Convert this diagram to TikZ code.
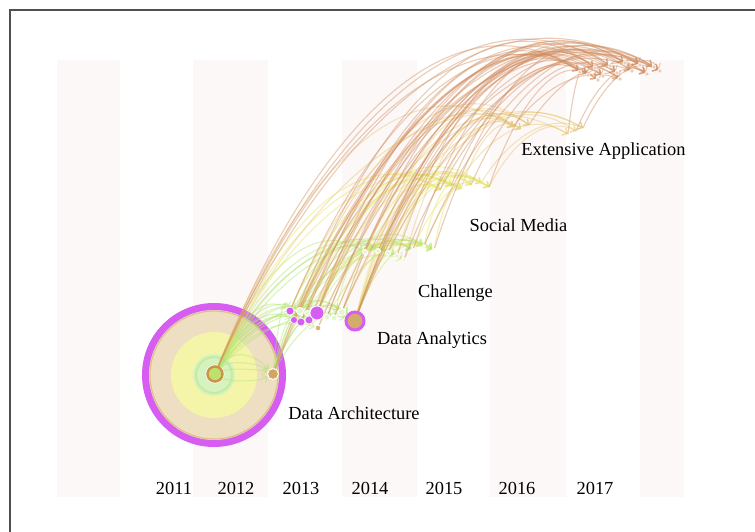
\documentclass[tikz,border=0pt]{standalone}
\usepackage{fontspec}
\setmainfont{Liberation Serif}
\usetikzlibrary{arrows.meta,calc}
\pgfdeclarelayer{back}
\pgfdeclarelayer{links}
\pgfsetlayers{back,links,main}

\definecolor{stripe}{RGB}{253,248,248}
\definecolor{framegray}{RGB}{80,80,80}
\definecolor{ringpurple}{RGB}{214,92,242}
\definecolor{tanfill}{RGB}{238,222,194}
\definecolor{tanline}{RGB}{222,190,140}
\definecolor{yellowfill}{RGB}{245,245,170}
\definecolor{greenfill}{RGB}{214,242,190}
\definecolor{greenring}{RGB}{196,236,160}
\definecolor{coregreen}{RGB}{190,225,110}
\definecolor{corering}{RGB}{200,150,70}
\definecolor{ebrown}{RGB}{210,142,98}
\definecolor{egold}{RGB}{230,198,112}
\definecolor{eyellow}{RGB}{228,230,92}
\definecolor{eygreen}{RGB}{204,230,104}
\definecolor{egreen}{RGB}{178,230,112}

% arched citation link from #2 up to #3
\newcommand\archlink[3]{%
  \draw[#1] let \p1=(#2), \p2=(#3) in (#2)
    .. controls ({\x1+0.25*(\x2-\x1)},{\y1+0.75*(\y2-\y1)})
    and ({\x2-0.375*(\x2-\x1)},{\y2+0.3*(\y2-\y1)}) .. (#3);}

\begin{document}
\begin{tikzpicture}[x=1pt,y=-1pt,
  link/.style={line width=1.1pt, draw opacity=0.45,
    -{Straight Barb[length=4pt,width=8pt]}},
  eBrown/.style={link, draw=ebrown},
  eGold/.style={link, draw=egold},
  eYellow/.style={link, draw=eyellow},
  eYGreen/.style={link, draw=eygreen},
  eGreen/.style={link, draw=egreen},
  pnode/.style={circle, inner sep=0, fill=ringpurple, draw=white, line width=0.6pt},
  wnode/.style={circle, inner sep=0, fill=greenfill!70!white, draw=white, line width=0.9pt},
  tnode/.style={circle, inner sep=0, minimum size=4pt, fill=ebrown!45!white, draw=white, line width=0.5pt},
  lab/.style={inner sep=0, anchor=base, font=\fontsize{18.4pt}{20pt}\selectfont},
]
\useasboundingbox (0,0) rectangle (755,532);

\begin{pgfonlayer}{back}
  \fill[white] (0,0) rectangle (755,532);
  % time-zone stripes
  \foreach \xa/\xb in {57/120, 193/268, 342/417, 490/566, 640/684}
    \fill[stripe] (\xa,60) rectangle (\xb,497);
  % frame
  \draw[framegray, line width=1.5pt] (10,532) -- (10,10) -- (755,10);
  % large 2012 node with its rings
  \fill[ringpurple] (214,375) circle[radius=72pt];
  \fill[tanfill] (214,375) circle[radius=65pt];
  \draw[tanline, line width=1.2pt] (214,375) circle[radius=64pt];
  \fill[yellowfill] (214,375) circle[radius=43pt];
  \fill[greenfill] (214,375) circle[radius=21pt];
  \draw[greenring, line width=2pt] (214,375) circle[radius=18pt];
  \fill[white] (215,374) circle[radius=9.5pt];
\end{pgfonlayer}

% 2012
\node[circle, minimum size=15pt, inner sep=0, fill=coregreen, draw=corering, line width=2.5pt] (A) at (215,374) {};
\node[circle, minimum size=11pt, inner sep=0, fill=corering!85, draw=white, line width=1pt] (B) at (273,374) {};
% 2013
\node[pnode, minimum size=8pt] (p1) at (290,311) {};
\node[pnode, minimum size=7pt] (p2) at (294,320) {};
\node[pnode, minimum size=8pt] (p3) at (301,322) {};
\node[pnode, minimum size=8pt] (p4) at (309,320) {};
\node[pnode, minimum size=14pt, line width=0.8pt] (p5) at (317,313) {};
\node[wnode, minimum size=6pt, fill=corering!70] (p6) at (318,328) {};
\node[wnode, minimum size=7pt] (q1) at (300,311) {};
\node[wnode, minimum size=5pt] (q2) at (307,313) {};
\node[wnode, minimum size=6pt] (q3) at (327,317) {};
\node[wnode, minimum size=6pt] (q4) at (334,318) {};
\node[wnode, minimum size=7pt] (q5) at (342,312) {};
% 2014
\node[circle, minimum size=18pt, inner sep=0, fill=corering!80, draw=ringpurple, line width=3pt] (D) at (355,321) {};
% 2015
\node[wnode, minimum size=5pt] (e1) at (365,252) {};
\node[wnode, minimum size=5pt] (e2) at (378,251) {};
\node[wnode, minimum size=5pt] (e3) at (388,253) {};
\node[wnode, minimum size=5pt] (e4) at (397,256) {};
\node[wnode, minimum size=4pt] (e5) at (404,260) {};
\node[wnode, minimum size=3pt] (e6) at (413,250) {};
\node[wnode, minimum size=3pt] (e7) at (424,246) {};
\node[wnode, minimum size=3pt] (e8) at (434,250) {};
% 2016
\coordinate (f1) at (440,190);
\coordinate (f2) at (451,186);
\coordinate (f3) at (461,189);
\coordinate (f4) at (471,185);
\coordinate (f5) at (481,183);
\coordinate (f6) at (489,187);
\coordinate (g1) at (513,127);
\coordinate (g2) at (521,129);
\coordinate (g3) at (529,125);
\coordinate (g4) at (568,134);
\coordinate (g5) at (576,131);
\coordinate (g6) at (583,128);
% 2017
\foreach \n/\px/\py in {h1/580/72, h2/588/75, h3/595/68, h4/603/76, h5/610/66,
  h6/617/73, h7/625/63, h8/632/71, h9/640/65, h10/647/74, h11/654/67,
  h12/660/71, h13/598/80, h14/620/79}
  \node[tnode] (\n) at (\px,\py) {};

\begin{pgfonlayer}{links}
  % 2012 -> 2012
  \draw[eGreen] (A) .. controls +(15,-25) and +(-20,-22) .. (B);
  \draw[eGreen] (A) .. controls +(12,-14) and +(-15,-12) .. (B);
  \draw[eGreen] (A) .. controls +(15,-6) and +(-15,-5) .. (B);
  \draw[eGreen] (A) .. controls +(15,8) and +(-15,8) .. (B);
  % into 2013 and 2014
  \foreach \s/\t in {A/p1, A/p2, A/q1, A/p3, A/p4, A/p5, A/q2, A/q3, A/q4, A/q5,
    A/D, A/p6, B/p3, B/p5, B/q4, B/D, B/q5, B/p1}
    {\archlink{eGreen}{\s}{\t}}
  \draw[eGreen] (p1) .. controls +(20,-18) and +(-20,-18) .. (D);
  \draw[eGreen] (p5) .. controls +(12,-12) and +(-12,-12) .. (D);
  \draw[eGreen] (q1) .. controls +(15,-14) and +(-15,-12) .. (q5);
  % into 2015
  \foreach \s/\t in {A/e1, A/e3, A/e6, A/e8, A/e4, B/e2, B/e7, p1/e1, p2/e4, p3/e2, p4/e6}
    {\archlink{eGreen}{\s}{\t}}
  \foreach \s/\t in {p5/e3, p5/e7, q1/e5, q3/e8, q5/e6, D/e7, D/e8, p6/e4, q4/e2, p1/e8, q2/e7, D/e5}
    {\archlink{eYGreen}{\s}{\t}}
  \draw[eGreen] (e1) .. controls +(15,-12) and +(-15,-12) .. (e6);
  \draw[eGreen] (e2) .. controls +(15,-14) and +(-15,-12) .. (e8);
  % into 2016
  \foreach \s/\t in {A/f1, A/f3, A/f6, p1/f2, p3/f4, p5/f1, p5/f5, q1/f3, q4/f6, D/f2,
    D/f4, D/f6, e1/f1, e2/f3, e3/f5, e6/f6, e8/f4, B/f5, p2/f2, e4/f2, e7/f3}
    {\archlink{eYellow}{\s}{\t}}
  \foreach \s/\t in {A/g1, A/g4, p1/g2, p5/g3, q5/g6, D/g1, D/g5, e1/g2, e3/g3, e7/g4,
    f1/g1, f3/g2, f5/g6, f6/g5, B/g3, p4/g6, e5/g1}
    {\archlink{eGold}{\s}{\t}}
  % into 2017
  \foreach \s/\t in {A/h1, A/h5, A/h9, A/h13, B/h3, B/h14, p1/h2, p2/h6, p3/h4, p3/h12,
    p4/h8, p5/h1, p5/h7, p5/h11, p6/h10, q1/h12, q2/h3, q3/h5, q4/h9, q5/h2, q5/h11,
    D/h4, D/h6, D/h8, D/h13, D/h10, e1/h7, e2/h10, e3/h12, e4/h1, e5/h14, e6/h3,
    e7/h11, e8/h5, f1/h9, f2/h2, f4/h6, f6/h13, g1/h14, g3/h8, g4/h2, g5/h10,
    g6/h12, e2/h4, q3/h7, p2/h9}
    {\archlink{eBrown}{\s}{\t}}
  \foreach \s/\t in {h1/h4, h3/h6, h5/h8, h7/h10, h2/h9, h9/h12, h13/h14}
    \draw[eBrown] (\s) .. controls +(4,-8) and +(-4,-8) .. (\t);
\end{pgfonlayer}

% cluster labels
\node[lab] at (354,419) {Data Architecture};
\node[lab] at (432,344) {Data Analytics};
\node[lab] at (455.5,297) {Challenge};
\node[lab] at (518.5,231) {Social Media};
\node[lab] at (603.5,156) {Extensive Application};
% time axis
\foreach \yr/\px in {2011/174, 2012/236, 2013/301, 2014/370, 2015/444, 2016/517, 2017/595}
  \node[lab] at (\px,494) {\yr};
\end{tikzpicture}
\end{document}
